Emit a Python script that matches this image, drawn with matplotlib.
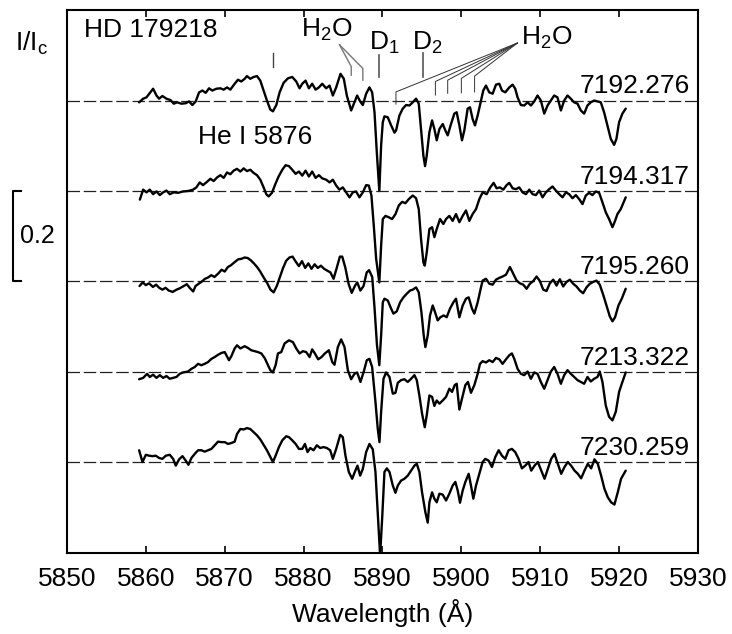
import matplotlib
matplotlib.use("Agg")
import matplotlib.pyplot as plt
from matplotlib.transforms import blended_transform_factory

plt.rcParams['font.family'] = ['Liberation Sans', 'DejaVu Sans']
plt.rcParams['mathtext.fontset'] = 'custom'
plt.rcParams['mathtext.rm'] = 'Liberation Sans'

# observation dates (JD - 2450000) and vertical shifts, top to bottom
jd_labels = ['7192.276', '7194.317', '7195.260', '7213.322', '7230.259']
offsets = [0.8, 0.6, 0.4, 0.2, 0.0]

# spectra: wavelength (A) and I/Ic
wl_1 = [5859.15, 5859.66, 5860.08, 5860.92, 5861.35, 5861.68, 5862.10, 5862.61, 5863.12, 5863.54,
        5863.96, 5864.51, 5865.06, 5865.48, 5865.90, 5866.32, 5866.75, 5867.17, 5867.59, 5868.01,
        5868.43, 5868.94, 5869.45, 5869.87, 5870.29, 5870.71, 5871.26, 5871.68, 5872.10, 5872.53,
        5872.82, 5873.24, 5873.66, 5874.09, 5874.51, 5874.93, 5875.35, 5875.78, 5876.11, 5876.54,
        5876.96, 5877.46, 5878.01, 5878.56, 5879.07, 5879.49, 5879.83, 5880.25, 5880.67, 5881.09,
        5881.52, 5881.94, 5882.36, 5882.86, 5883.29, 5883.71, 5884.13, 5884.68, 5885.10, 5885.48,
        5886.03, 5886.45, 5886.79, 5887.17, 5887.51, 5887.93, 5888.35, 5888.69, 5888.99, 5889.28,
        5889.60, 5889.83, 5890.04, 5890.25, 5890.67, 5891.10, 5891.52, 5891.73, 5892.15, 5892.57,
        5893.00, 5893.42, 5893.84, 5894.26, 5894.60, 5894.89, 5895.19, 5895.40, 5895.61, 5895.95,
        5896.29, 5896.58, 5896.88, 5897.22, 5897.64, 5897.97, 5898.27, 5898.69, 5899.11, 5899.41,
        5899.75, 5900.08, 5900.38, 5900.80, 5901.10, 5901.43, 5901.73, 5902.07, 5902.49, 5902.78,
        5903.12, 5903.54, 5903.97, 5904.39, 5904.81, 5905.15, 5905.57, 5906.08, 5906.50, 5906.83,
        5907.13, 5907.55, 5907.97, 5908.40, 5908.82, 5909.24, 5909.66, 5910.08, 5910.51, 5910.93,
        5911.35, 5911.77, 5912.19, 5912.62, 5913.04, 5913.46, 5913.88, 5914.30, 5914.73, 5915.15,
        5915.57, 5915.99, 5916.41, 5916.84, 5917.26, 5917.68, 5918.10, 5918.52, 5918.95, 5919.37,
        5919.66, 5920.00, 5920.42, 5920.84]
flux_1 = [0.996, 1.004, 1.007, 1.026, 1.011, 1.004, 1.010, 1.004, 1.001, 0.993,
          0.996, 0.993, 0.994, 0.998, 0.990, 0.998, 1.018, 1.022, 1.017, 1.027,
          1.022, 1.026, 1.027, 1.024, 1.029, 1.024, 1.037, 1.046, 1.042, 1.048,
          1.054, 1.048, 1.052, 1.054, 1.044, 1.022, 1.000, 0.980, 0.976, 0.990,
          1.018, 1.039, 1.049, 1.052, 1.042, 1.027, 1.037, 1.044, 1.027, 1.037,
          1.024, 1.029, 1.037, 1.027, 1.033, 1.011, 1.029, 1.059, 1.048, 1.011,
          0.978, 0.996, 1.011, 0.998, 0.990, 1.015, 1.029, 1.018, 0.974, 0.886,
          0.800, 0.901, 0.952, 0.965, 0.963, 0.945, 0.929, 0.934, 0.967, 0.982,
          0.990, 0.989, 0.996, 1.004, 0.993, 0.937, 0.878, 0.855, 0.878, 0.930,
          0.956, 0.937, 0.912, 0.937, 0.948, 0.934, 0.923, 0.948, 0.971, 0.974,
          0.945, 0.912, 0.934, 0.982, 0.985, 0.959, 0.945, 0.967, 1.000, 1.022,
          1.033, 1.018, 1.015, 1.035, 1.037, 1.022, 1.018, 1.029, 1.035, 1.026,
          1.007, 0.990, 0.989, 0.996, 0.989, 0.998, 1.011, 1.000, 0.971, 0.989,
          1.000, 1.011, 1.007, 0.978, 1.000, 1.011, 1.004, 0.996, 0.993, 0.978,
          0.971, 0.989, 0.996, 1.000, 0.998, 0.996, 0.974, 0.945, 0.915, 0.902,
          0.915, 0.952, 0.971, 0.982]

wl_2 = [5859.24, 5859.66, 5860.08, 5860.50, 5860.92, 5861.35, 5861.77, 5862.19, 5862.61, 5863.03,
        5863.54, 5864.09, 5864.72, 5865.35, 5865.99, 5866.41, 5866.83, 5867.25, 5867.67, 5868.18,
        5868.60, 5869.03, 5869.45, 5869.87, 5870.29, 5870.71, 5871.13, 5871.56, 5871.98, 5872.40,
        5872.82, 5873.24, 5873.66, 5874.09, 5874.51, 5874.93, 5875.27, 5875.57, 5875.99, 5876.41,
        5876.83, 5877.30, 5877.72, 5878.14, 5878.56, 5878.99, 5879.41, 5879.83, 5880.25, 5880.67,
        5881.09, 5881.52, 5881.94, 5882.36, 5882.86, 5883.29, 5883.71, 5884.13, 5884.55, 5884.97,
        5885.40, 5885.82, 5886.24, 5886.66, 5887.08, 5887.51, 5887.93, 5888.27, 5888.60, 5888.90,
        5889.20, 5889.60, 5889.83, 5890.04, 5890.38, 5890.80, 5891.22, 5891.65, 5892.07, 5892.49,
        5892.91, 5893.33, 5893.84, 5894.26, 5894.60, 5894.89, 5895.19, 5895.36, 5895.61, 5895.95,
        5896.29, 5896.58, 5896.88, 5897.30, 5897.72, 5898.06, 5898.48, 5898.90, 5899.32, 5899.75,
        5900.17, 5900.59, 5901.01, 5901.43, 5901.86, 5902.28, 5902.70, 5903.21, 5903.67, 5904.09,
        5904.47, 5904.89, 5905.32, 5905.74, 5906.08, 5906.50, 5906.92, 5907.34, 5907.76, 5908.19,
        5908.61, 5909.03, 5909.45, 5909.87, 5910.30, 5910.72, 5911.14, 5911.56, 5911.98, 5912.41,
        5912.83, 5913.25, 5913.67, 5914.09, 5914.52, 5914.94, 5915.36, 5915.78, 5916.20, 5916.62,
        5917.05, 5917.47, 5917.89, 5918.31, 5918.73, 5919.16, 5919.49, 5919.79, 5920.21, 5920.84]
flux_2 = [0.981, 1.003, 0.997, 1.003, 0.993, 0.999, 0.991, 0.997, 1.001, 0.993,
          0.997, 0.996, 0.999, 1.000, 1.003, 1.008, 1.019, 1.013, 1.019, 1.027,
          1.022, 1.030, 1.035, 1.029, 1.041, 1.037, 1.045, 1.049, 1.043, 1.050,
          1.044, 1.047, 1.040, 1.035, 1.025, 1.008, 0.993, 0.988, 0.996, 1.015,
          1.032, 1.047, 1.057, 1.055, 1.047, 1.038, 1.043, 1.034, 1.045, 1.032,
          1.043, 1.029, 1.035, 1.028, 1.025, 1.019, 1.025, 1.012, 1.003, 1.008,
          0.997, 0.986, 0.997, 0.999, 0.986, 0.997, 1.013, 1.012, 0.990, 0.923,
          0.850, 0.798, 0.879, 0.938, 0.945, 0.942, 0.938, 0.949, 0.968, 0.976,
          0.973, 0.982, 0.990, 0.984, 0.960, 0.894, 0.842, 0.835, 0.864, 0.916,
          0.920, 0.898, 0.916, 0.938, 0.927, 0.938, 0.945, 0.934, 0.949, 0.931,
          0.945, 0.957, 0.934, 0.949, 0.960, 0.982, 0.997, 0.993, 1.008, 1.018,
          1.006, 1.008, 1.003, 1.013, 1.018, 1.006, 1.004, 1.008, 0.997, 0.993,
          1.003, 0.993, 0.991, 1.001, 0.986, 0.997, 1.004, 1.010, 1.001, 0.993,
          0.986, 0.997, 0.993, 0.984, 0.991, 0.982, 0.971, 0.990, 0.996, 0.991,
          0.999, 0.996, 0.975, 0.953, 0.938, 0.920, 0.934, 0.949, 0.960, 0.986]

wl_3 = [5859.2, 5859.6, 5860.0, 5860.4, 5860.9, 5861.3, 5861.7, 5862.1, 5862.5, 5862.9,
        5863.4, 5863.9, 5864.3, 5864.7, 5865.2, 5865.6, 5866.0, 5866.3, 5866.7, 5867.1,
        5867.5, 5867.9, 5868.3, 5868.7, 5869.2, 5869.6, 5870.0, 5870.4, 5870.8, 5871.2,
        5871.7, 5872.1, 5872.5, 5872.9, 5873.3, 5873.7, 5874.1, 5874.5, 5874.9, 5875.4,
        5875.8, 5876.2, 5876.6, 5877.0, 5877.4, 5877.8, 5878.2, 5878.6, 5879.0, 5879.4,
        5879.8, 5880.2, 5880.6, 5881.0, 5881.4, 5881.8, 5882.2, 5882.6, 5883.0, 5883.4,
        5883.8, 5884.2, 5884.6, 5884.9, 5885.3, 5885.7, 5886.1, 5886.5, 5886.8, 5887.2,
        5887.6, 5888.0, 5888.3, 5888.7, 5889.0, 5889.3, 5889.6, 5889.83, 5890.04, 5890.25,
        5890.67, 5891.10, 5891.39, 5891.81, 5892.24, 5892.66, 5893.08, 5893.50, 5893.84, 5894.26,
        5894.60, 5894.94, 5895.23, 5895.44, 5895.74, 5896.03, 5896.37, 5896.67, 5897.00, 5897.34,
        5897.76, 5898.14, 5898.56, 5898.99, 5899.32, 5899.75, 5900.17, 5900.59, 5900.93, 5901.35,
        5901.65, 5902.07, 5902.49, 5902.70, 5903.12, 5903.55, 5903.97, 5904.39, 5904.81, 5905.23,
        5905.66, 5906.16, 5906.58, 5907.01, 5907.43, 5907.85, 5908.27, 5908.69, 5909.12, 5909.54,
        5909.96, 5910.38, 5910.80, 5911.22, 5911.65, 5912.07, 5912.49, 5912.91, 5913.33, 5913.76,
        5914.18, 5914.60, 5915.02, 5915.44, 5915.87, 5916.29, 5916.71, 5917.13, 5917.55, 5917.98,
        5918.40, 5918.82, 5919.16, 5919.49, 5919.92, 5920.34, 5920.84]
flux_3 = [0.990, 0.998, 0.992, 0.996, 0.988, 0.993, 0.986, 0.982, 0.986, 0.980,
          0.977, 0.982, 0.985, 0.989, 0.994, 0.985, 0.978, 0.990, 0.995, 1.000,
          1.006, 1.009, 1.014, 1.010, 1.018, 1.026, 1.022, 1.032, 1.036, 1.042,
          1.049, 1.050, 1.053, 1.052, 1.047, 1.040, 1.032, 1.022, 1.010, 0.996,
          0.982, 0.976, 0.990, 1.010, 1.030, 1.046, 1.053, 1.055, 1.044, 1.034,
          1.045, 1.030, 1.040, 1.028, 1.038, 1.030, 1.035, 1.028, 1.024, 1.020,
          1.006, 1.030, 1.055, 1.055, 1.030, 0.995, 0.975, 0.990, 0.998, 0.980,
          0.990, 1.020, 1.025, 1.010, 0.940, 0.860, 0.815, 0.881, 0.954, 0.962,
          0.958, 0.940, 0.929, 0.934, 0.954, 0.965, 0.973, 0.980, 0.982, 0.987,
          0.976, 0.932, 0.881, 0.855, 0.881, 0.925, 0.947, 0.932, 0.914, 0.921,
          0.925, 0.921, 0.940, 0.954, 0.962, 0.921, 0.947, 0.962, 0.965, 0.940,
          0.929, 0.954, 0.987, 1.002, 1.006, 0.995, 0.993, 1.004, 1.008, 1.011,
          1.015, 1.032, 1.017, 1.002, 0.996, 0.993, 0.984, 0.995, 1.001, 1.011,
          1.001, 0.982, 0.979, 0.996, 1.004, 0.991, 1.005, 0.989, 0.999, 1.004,
          0.995, 0.989, 0.980, 0.974, 0.987, 0.995, 0.999, 1.002, 0.993, 0.971,
          0.947, 0.923, 0.912, 0.921, 0.947, 0.962, 0.984]

wl_4 = [5859.15, 5859.66, 5860.16, 5860.50, 5860.92, 5861.35, 5861.77, 5862.19, 5862.61, 5863.03,
        5863.46, 5863.88, 5864.30, 5864.72, 5865.35, 5865.78, 5866.20, 5866.62, 5867.04, 5867.46,
        5867.89, 5868.31, 5868.73, 5869.15, 5869.57, 5870.00, 5870.54, 5870.84, 5871.26, 5871.56,
        5871.98, 5872.53, 5872.95, 5873.37, 5873.79, 5874.22, 5874.64, 5875.06, 5875.48, 5875.78,
        5876.11, 5876.45, 5876.75, 5877.17, 5877.59, 5878.14, 5878.65, 5879.07, 5879.49, 5879.91,
        5880.33, 5880.76, 5881.09, 5881.43, 5881.85, 5882.27, 5882.70, 5883.20, 5883.63, 5883.92,
        5884.34, 5884.76, 5885.19, 5885.61, 5886.03, 5886.45, 5886.79, 5887.21, 5887.63, 5888.01,
        5888.35, 5888.69, 5889.11, 5889.40, 5889.62, 5889.83, 5890.13, 5890.46, 5890.89, 5891.31,
        5891.65, 5891.94, 5892.36, 5892.78, 5893.21, 5893.63, 5894.05, 5894.35, 5894.68, 5895.02,
        5895.36, 5895.61, 5895.95, 5896.29, 5896.58, 5896.88, 5897.22, 5897.64, 5898.06, 5898.48,
        5898.82, 5899.16, 5899.41, 5899.75, 5900.08, 5900.51, 5900.84, 5901.22, 5901.65, 5902.07,
        5902.36, 5902.70, 5903.12, 5903.54, 5903.97, 5904.39, 5904.81, 5905.23, 5905.66, 5906.08,
        5906.41, 5906.71, 5907.13, 5907.55, 5907.97, 5908.40, 5908.82, 5909.24, 5909.66, 5910.08,
        5910.51, 5910.93, 5911.35, 5911.77, 5912.19, 5912.62, 5913.04, 5913.46, 5913.88, 5914.30,
        5914.73, 5915.15, 5915.57, 5915.99, 5916.41, 5916.84, 5917.26, 5917.55, 5917.89, 5918.31,
        5918.73, 5919.16, 5919.58, 5920.00, 5920.42, 5920.84]
flux_4 = [0.984, 0.987, 0.996, 0.989, 0.994, 0.987, 0.993, 0.987, 0.991, 0.985,
          0.987, 0.989, 0.996, 0.999, 1.001, 1.007, 1.011, 1.018, 1.015, 1.018,
          1.022, 1.029, 1.033, 1.038, 1.042, 1.044, 1.026, 1.035, 1.052, 1.059,
          1.052, 1.057, 1.053, 1.048, 1.046, 1.044, 1.041, 1.031, 1.015, 1.004,
          0.999, 1.015, 1.041, 1.044, 1.063, 1.070, 1.066, 1.052, 1.041, 1.046,
          1.044, 1.033, 1.050, 1.041, 1.028, 1.033, 1.041, 1.048, 1.022, 1.016,
          1.055, 1.072, 1.055, 1.004, 0.984, 0.996, 0.999, 0.978, 1.001, 1.026,
          1.029, 1.011, 0.934, 0.875, 0.845, 0.912, 0.985, 0.999, 0.989, 0.952,
          0.954, 0.976, 0.982, 0.984, 0.978, 0.985, 0.993, 0.982, 0.948, 0.908,
          0.878, 0.904, 0.948, 0.945, 0.925, 0.937, 0.930, 0.937, 0.945, 0.963,
          0.956, 0.971, 0.974, 0.917, 0.941, 0.971, 0.978, 0.954, 0.971, 0.996,
          1.018, 1.024, 1.021, 1.026, 1.022, 1.031, 1.028, 1.018, 1.028, 1.037,
          1.041, 1.029, 1.007, 0.996, 0.993, 1.001, 0.985, 0.999, 0.996, 0.978,
          0.963, 0.982, 1.001, 1.011, 0.996, 0.974, 0.993, 1.004, 0.996, 0.989,
          0.982, 0.978, 0.974, 0.989, 0.979, 0.985, 0.989, 1.001, 0.978, 0.926,
          0.901, 0.893, 0.912, 0.956, 0.978, 0.999]

wl_5 = [5859.15, 5859.57, 5860.00, 5860.42, 5860.84, 5861.26, 5861.68, 5862.10, 5862.53, 5863.03,
        5863.46, 5863.79, 5864.22, 5864.64, 5865.06, 5865.40, 5865.78, 5866.20, 5866.62, 5867.04,
        5867.46, 5867.89, 5868.31, 5868.73, 5869.15, 5869.57, 5870.00, 5870.42, 5870.84, 5871.26,
        5871.56, 5871.98, 5872.40, 5872.82, 5873.24, 5873.66, 5874.09, 5874.51, 5874.93, 5875.35,
        5875.78, 5876.11, 5876.45, 5876.87, 5877.30, 5877.80, 5878.14, 5878.56, 5878.99, 5879.41,
        5879.83, 5880.17, 5880.50, 5880.84, 5881.26, 5881.68, 5882.10, 5882.53, 5882.95, 5883.37,
        5883.71, 5884.13, 5884.64, 5884.97, 5885.31, 5885.73, 5886.16, 5886.49, 5886.83, 5887.17,
        5887.51, 5887.93, 5888.35, 5888.77, 5889.11, 5889.40, 5889.70, 5889.96, 5890.25, 5890.55,
        5890.89, 5891.31, 5891.65, 5891.94, 5892.36, 5892.78, 5893.21, 5893.63, 5894.05, 5894.35,
        5894.68, 5895.02, 5895.44, 5895.74, 5895.95, 5896.29, 5896.58, 5896.88, 5897.22, 5897.64,
        5898.06, 5898.48, 5898.90, 5899.24, 5899.54, 5899.83, 5900.17, 5900.51, 5900.93, 5901.22,
        5901.52, 5901.86, 5902.28, 5902.70, 5903.04, 5903.46, 5903.88, 5904.30, 5904.73, 5905.15,
        5905.57, 5905.99, 5906.41, 5906.83, 5907.26, 5907.68, 5908.10, 5908.52, 5908.86, 5909.28,
        5909.70, 5910.13, 5910.55, 5910.97, 5911.39, 5911.81, 5912.24, 5912.66, 5913.08, 5913.50,
        5913.92, 5914.35, 5914.77, 5915.19, 5915.61, 5916.03, 5916.46, 5916.88, 5917.30, 5917.72,
        5918.14, 5918.57, 5918.99, 5919.41, 5919.83, 5920.25, 5920.84]
flux_5 = [1.027, 1.001, 1.017, 1.015, 1.014, 1.015, 1.010, 1.008, 1.015, 1.017,
          1.008, 0.993, 1.007, 1.014, 1.004, 0.995, 1.010, 1.019, 1.027, 1.027,
          1.024, 1.027, 1.030, 1.038, 1.046, 1.045, 1.045, 1.041, 1.043, 1.046,
          1.063, 1.074, 1.073, 1.076, 1.074, 1.067, 1.060, 1.051, 1.039, 1.027,
          1.012, 1.001, 1.015, 1.034, 1.049, 1.058, 1.056, 1.049, 1.041, 1.030,
          1.030, 1.041, 1.023, 1.032, 1.027, 1.038, 1.032, 1.034, 1.032, 1.027,
          1.008, 1.030, 1.061, 1.056, 1.015, 0.979, 0.964, 0.979, 0.993, 0.971,
          0.986, 1.023, 1.041, 1.029, 0.979, 0.890, 0.795, 0.876, 0.979, 0.987,
          0.979, 0.949, 0.933, 0.949, 0.960, 0.964, 0.971, 0.982, 0.993, 0.997,
          0.979, 0.934, 0.890, 0.867, 0.912, 0.934, 0.920, 0.912, 0.931, 0.929,
          0.916, 0.931, 0.949, 0.957, 0.938, 0.911, 0.938, 0.957, 0.975, 0.949,
          0.920, 0.949, 0.975, 1.001, 1.008, 1.004, 0.990, 1.012, 1.027, 1.015,
          1.008, 1.027, 1.030, 1.023, 1.008, 0.987, 0.993, 1.001, 0.982, 0.993,
          1.001, 0.982, 0.964, 0.986, 1.008, 1.019, 0.997, 0.975, 0.990, 1.001,
          0.993, 0.982, 0.975, 0.965, 0.982, 0.997, 0.987, 1.007, 0.997, 0.971,
          0.942, 0.923, 0.912, 0.907, 0.934, 0.964, 0.982]

spectra = [(wl_1, flux_1), (wl_2, flux_2), (wl_3, flux_3), (wl_4, flux_4), (wl_5, flux_5)]

fs = 19
fig = plt.figure(figsize=(7.32, 6.34), dpi=100)
ax = fig.add_axes([0.0915, 0.1278, 0.862, 0.8564])

for (wl, fl), off, lab in zip(spectra, offsets, jd_labels):
    ax.axhline(1 + off, color='#222222', lw=0.9, dashes=(10, 3))
    ax.plot(wl, [f + off for f in fl], color='black', lw=1.7,
            solid_joinstyle='round', solid_capstyle='round')
    ax.text(5929.0, 1 + off + 0.0155, lab, ha='right', va='baseline', fontsize=fs)

ax.set_xlim(5850, 5930)
ax.set_ylim(0.8, 2.0)
ax.set_xticks(range(5850, 5931, 10))
ax.set_yticks([])
ax.tick_params(axis='x', direction='in', top=True, length=5, width=1.2,
               labelsize=fs, pad=10)
for sp in ax.spines.values():
    sp.set_linewidth(1.5)
ax.set_xlabel('Wavelength (Å)', fontsize=fs, labelpad=6)

# line identifications
ax.text(5852.15, 1.956, 'HD 179218', fontsize=fs, va='center')
ax.text(5873.8, 1.719, 'He I 5876', fontsize=fs, ha='center', va='center')
ax.plot([5876.08, 5876.08], [1.905, 1.874], color='#444444', lw=1.0)

ax.text(5883.0, 1.956, r'H$_\mathregular{2}$O', fontsize=fs, ha='center', va='center')
ax.plot([5884.56, 5886.04, 5886.04], [1.923, 1.875, 1.856], color='#777777', lw=1.0)
ax.plot([5884.56, 5887.51, 5887.51], [1.923, 1.871, 1.845], color='#777777', lw=1.0)

ax.text(5890.25, 1.927, r'D$_\mathregular{1}$', fontsize=fs, ha='center', va='center')
ax.plot([5889.62, 5889.62], [1.901, 1.853], color='#555555', lw=1.2)
ax.text(5895.7, 1.927, r'D$_\mathregular{2}$', fontsize=fs, ha='center', va='center')
ax.plot([5895.1, 5895.1], [1.905, 1.853], color='#555555', lw=1.2)

ax.text(5910.8, 1.938, r'H$_\mathregular{2}$O', fontsize=fs, ha='center', va='center')
fan_x = [5891.71, 5896.71, 5898.27, 5900.0, 5901.68]
fan_top = [1.819, 1.842, 1.845, 1.849, 1.854]
fan_bot = [1.792, 1.812, 1.816, 1.817, 1.819]
for fx, ft, fb in zip(fan_x, fan_top, fan_bot):
    ax.plot([5907.1, fx, fx], [1.927, ft, fb], color='#333333', lw=0.7)

# intensity label and 0.2 scale bar
fig.text(15 / 732, 1 - 43 / 634, r'I/I$_\mathregular{c}$', fontsize=fs, va='center')
tr = blended_transform_factory(fig.transFigure, ax.transData)
ax.plot([0.0287, 0.0184, 0.0184, 0.0287], [1.6, 1.6, 1.4, 1.4], color='black', lw=1.5,
        transform=tr, clip_on=False)
fig.text(0.027, 0.628, '0.2', fontsize=fs - 1, va='center')

fig.savefig('out.png', dpi=100)
